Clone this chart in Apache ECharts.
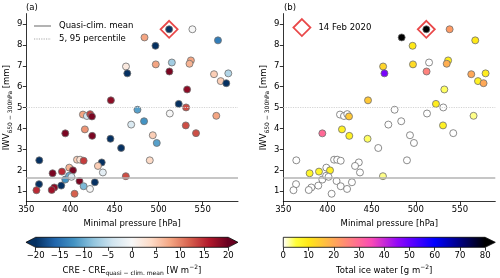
<!DOCTYPE html>
<html><head><meta charset="utf-8">
<script src="https://cdn.jsdelivr.net/npm/echarts@6/dist/echarts.min.js"></script>
<style>html,body{margin:0;padding:0;background:#fff}#c{width:500px;height:278px}</style>
</head><body><div id="c"></div>
<script>
// ---- data ----
const pressure = [511.9,538.3,484.0,496.4,567.3,463.0,464.5,496.8,515.0,536.6,
  535.0,512.2,562.8,579.0,570.4,576.7,532.3,445.9,522.8,531.1,
  476.0,512.7,483.5,565.4,530.8,542.4,493.4,497.9,490.0,468.9,
  414.2,418.7,422.4,424.4,394.2,416.4,424.7,445.4,457.5,364.7,
  407.5,411.0,415.0,435.5,431.2,436.8,379.8,390.4,398.7,402.9,
  462.8,394.2,398.5,401.2,410.3,427.7,415.0,422.2,404.7,389.6,
  381.7,378.8,364.4,361.5];
const iwv = [8.75,8.75,8.36,7.96,8.22,6.97,6.64,7.07,7.16,7.26,
  7.10,6.73,6.60,6.64,6.27,6.17,5.87,5.35,5.18,5.01,
  4.90,4.72,4.35,4.61,4.15,3.78,3.68,3.31,2.48,4.19,
  4.67,4.60,4.69,4.58,3.77,3.96,3.65,3.51,3.07,2.48,
  2.51,2.51,2.46,2.38,2.21,1.90,1.86,1.94,2.13,2.00,
  1.72,1.56,1.74,1.69,1.49,1.43,1.24,1.11,0.88,1.27,
  1.18,1.06,1.34,1.05];
const creDiff = [-20,0,8,-20,-14,2,-20,8,-7,8,
  7,19,5,-6,5,-20,18,18,-20,13,
  -11,0,-12,8,13,13,5,-11,4,-3,
  8,-4,14,19,19,9,19,-20,-20,-20,
  5,3,14,-20,5,-2,19,15,7,19,
  13,-12,-10,-3,19,-20,-9,0,12,-20,
  18,17,-20,15];
const iceWater = [80,22,80,10,10,13,48,12,0,9,
  19,26,20,9,8,20,4,15,9,0,
  0,0,0,3,8,0,0,0,0,0,
  0,0,0,15,30,8,8,4,0,0,
  0,0,0,0,0,0,7,7,0,8,
  3,0,0,0,0,0,0,0,0,0,
  0,0,0,0];
const highlightPressure = [511.9];
const highlightIwv = [8.75];
const climMean = 1.65;
const percentile95 = 5.0;
const xTicks = [350,400,450,500,550];
const yTicks = [1,2,3,4,5,6,7,8,9];
const creTicks = [-20,-15,-10,-5,0,5,10,15,20];
const iceTicks = [0,10,20,30,40,50,60,70,80];
const creRange = [-20,20];
const iceRange = [0,80];
const rdbuR = ['#053061','#2166ac','#4393c3','#92c5de','#d1e5f0','#f7f7f7','#fddbc7','#f4a582','#d6604d','#b2182b','#67001f'];
const gnuplot2R = ['#ffffff','#ffff38','#ffe817','#ffc837','#ffa857','#ff8877','#ff6996','#f949b6','#c729d6','#9509f6','#6400ff','#3200ff','#0000ff','#0000bf','#000080','#000040','#000000'];

// ---- chart ----
const FONT = 'DejaVu Sans';
const FS = 8.5;
const chart = echarts.init(document.getElementById('c'), null, {renderer:'canvas'});

function mainX(gi){
  return {gridIndex:gi, type:'value', min:350, max:590,
    axisLine:{show:true, lineStyle:{color:'#000', width:0.8}},
    axisTick:{show:true, length:3.5, lineStyle:{color:'#000', width:0.8}, customValues:xTicks},
    axisLabel:{customValues:xTicks, fontSize:FS, color:'#000', margin:4, fontFamily:FONT},
    splitLine:{show:false},
    name:'Minimal pressure [hPa]', nameLocation:'middle', nameGap:17,
    nameTextStyle:{fontSize:FS, color:'#000', fontFamily:FONT}};
}
function mainY(gi){
  return {gridIndex:gi, type:'value', min:0.5, max:9.5,
    axisLine:{show:true, lineStyle:{color:'#000', width:0.8}},
    axisTick:{show:true, length:3.5, lineStyle:{color:'#000', width:0.8}, customValues:yTicks},
    axisLabel:{customValues:yTicks, fontSize:FS, color:'#000', margin:4, fontFamily:FONT},
    splitLine:{show:false},
    name:'IWV{sub|650 − 300hPa} [mm]', nameLocation:'middle', nameGap:12, nameRotate:90,
    nameTextStyle:{fontSize:FS, color:'#000', fontFamily:FONT, lineHeight:12,
      rich:{sub:{fontSize:6, fontFamily:FONT, color:'#000', verticalAlign:'bottom', lineHeight:8}}}};
}
function cbX(gi, range, ticks, name, rich){
  return {gridIndex:gi, type:'value', min:range[0], max:range[1], position:'bottom',
    axisLine:{show:false},
    axisTick:{show:true, length:3.5, lineStyle:{color:'#000', width:0.8}, customValues:ticks},
    axisLabel:{customValues:ticks, fontSize:FS, color:'#000', margin:4, fontFamily:FONT,
      formatter:v=>String(v).replace('-','−')},
    splitLine:{show:false},
    name:name, nameLocation:'middle', nameGap:17,
    nameTextStyle:{fontSize:FS, color:'#000', fontFamily:FONT, lineHeight:12, rich:rich}};
}
function cbY(gi){
  return {gridIndex:gi, type:'value', min:0, max:1, show:false};
}
function cbRender(colors, extLow, extHigh){
  return function(params, api){
    const p0 = api.coord([api.value(0), 0]);
    const p1 = api.coord([api.value(1), 1]);
    const x0 = p0[0], x1 = p1[0], yb = p0[1], yt = p1[1];
    const ym = (yb+yt)/2;
    const ext = 0.05*(x1-x0);
    const stops = colors.map((c,i)=>({offset:i/(colors.length-1), color:c}));
    const children = [{type:'rect', shape:{x:x0, y:yt, width:x1-x0, height:yb-yt},
      style:{fill:new echarts.graphic.LinearGradient(0,0,1,0,stops)}}];
    const outline = [];
    if (extLow){
      children.push({type:'polygon', shape:{points:[[x0+0.5,yt],[x0-ext,ym],[x0+0.5,yb]]}, style:{fill:colors[0]}});
      outline.push([x0,yb],[x0-ext,ym],[x0,yt]);
    } else { outline.push([x0,yb],[x0,yt]); }
    if (extHigh){
      children.push({type:'polygon', shape:{points:[[x1-0.5,yt],[x1+ext,ym],[x1-0.5,yb]]}, style:{fill:colors[colors.length-1]}});
      outline.push([x1,yt],[x1+ext,ym],[x1,yb]);
    } else { outline.push([x1,yt],[x1,yb]); }
    children.push({type:'polygon', shape:{points:outline}, style:{fill:null, stroke:'#000', lineWidth:0.8}});
    return {type:'group', children:children};
  };
}
function refLines(xi, names){
  return [
    {name:names[0], type:'line', xAxisIndex:xi, yAxisIndex:xi, data:[], symbol:'none',
      lineStyle:{color:'#b3b3b3', width:1.5}, itemStyle:{color:'#b3b3b3'}, z:1,
      markLine:{symbol:'none', silent:true, label:{show:false}, animation:false,
        lineStyle:{color:'#b3b3b3', width:1.5, type:'solid'}, data:[{yAxis:climMean}]}},
    {name:names[1], type:'line', xAxisIndex:xi, yAxisIndex:xi, data:[], symbol:'none',
      lineStyle:{color:'#d4d4d4', width:1.2, type:[1.2,1.2]}, itemStyle:{color:'#d4d4d4'}, z:1,
      markLine:{symbol:'none', silent:true, label:{show:false}, animation:false,
        lineStyle:{color:'#d4d4d4', width:1.2, type:[1.2,1.2]}, data:[{yAxis:percentile95}]}}
  ];
}

const ptsA = pressure.map((p,i)=>[p, iwv[i], creDiff[i]]);
const ptsB = pressure.map((p,i)=>[p, iwv[i], iceWater[i]]);
const hl = highlightPressure.map((p,i)=>[p, highlightIwv[i]]);
const ptStyle = {borderColor:'#6e6e6e', borderWidth:0.8, opacity:1};

const option = {
  animation:false,
  textStyle:{fontFamily:FONT},
  title:[
    {text:'(a)', left:26, top:3, padding:0, textStyle:{fontSize:FS, fontWeight:'normal', color:'#000', fontFamily:FONT}},
    {text:'(b)', left:284, top:3, padding:0, textStyle:{fontSize:FS, fontWeight:'normal', color:'#000', fontFamily:FONT}}
  ],
  grid:[
    {left:26, top:13.6, width:212, height:188.1},
    {left:283.3, top:13.6, width:212, height:188.1},
    {left:35.6, top:237.3, width:192.7, height:10},
    {left:283.3, top:237.3, width:201.9, height:10}
  ],
  xAxis:[mainX(0), mainX(1),
    cbX(2, creRange, creTicks, 'CRE - CRE{sub|quasi − clim. mean} [W m{sup|−2}]',
      {sub:{fontSize:6, fontFamily:FONT, color:'#000', verticalAlign:'bottom', lineHeight:8},
       sup:{fontSize:6, fontFamily:FONT, color:'#000', verticalAlign:'top', lineHeight:8}}),
    cbX(3, iceRange, iceTicks, 'Total ice water [g m{sup|−2}]',
      {sup:{fontSize:6, fontFamily:FONT, color:'#000', verticalAlign:'top', lineHeight:8}})],
  yAxis:[mainY(0), mainY(1), cbY(2), cbY(3)],
  legend:[
    {data:[{name:'Quasi-clim. mean', icon:'inherit'},{name:'5, 95 percentile', icon:'inherit'}],
      orient:'vertical', left:33, top:21,
      itemWidth:17, itemHeight:9, itemGap:3, padding:0,
      itemStyle:{opacity:0},
      textStyle:{fontSize:FS, color:'#000', fontFamily:FONT, lineHeight:10, padding:[0,0,0,3]}},
    {data:['14 Feb 2020'], left:292.5, top:18.2, itemWidth:17, itemHeight:17, padding:0,
      itemStyle:{color:'rgba(0,0,0,0)', borderColor:'#e41a1c', borderWidth:1.8},
      textStyle:{fontSize:FS, color:'#000', fontFamily:FONT, padding:[0,0,0,3]}}
  ],
  visualMap:[
    {type:'continuous', show:false, seriesIndex:0, dimension:2, min:creRange[0], max:creRange[1], inRange:{color:rdbuR}},
    {type:'continuous', show:false, seriesIndex:1, dimension:2, min:iceRange[0], max:iceRange[1], inRange:{color:gnuplot2R}}
  ],
  series:[
    {name:'CRE', type:'scatter', xAxisIndex:0, yAxisIndex:0, data:ptsA, symbolSize:7, itemStyle:ptStyle, z:3},
    {name:'IWP', type:'scatter', xAxisIndex:1, yAxisIndex:1, data:ptsB, symbolSize:7, itemStyle:ptStyle, z:3},
    {name:'hlA', type:'scatter', xAxisIndex:0, yAxisIndex:0, data:hl, symbol:'diamond', symbolSize:17,
      itemStyle:{color:'rgba(0,0,0,0)', borderColor:'#e41a1c', borderWidth:1.8}, z:5},
    {name:'14 Feb 2020', type:'scatter', xAxisIndex:1, yAxisIndex:1, data:hl, symbol:'diamond', symbolSize:17,
      itemStyle:{color:'rgba(0,0,0,0)', borderColor:'#e41a1c', borderWidth:1.8}, z:5},
    ...refLines(0, ['Quasi-clim. mean','5, 95 percentile']),
    ...refLines(1, ['meanB','p95B']),
    {type:'custom', xAxisIndex:2, yAxisIndex:2, data:[[creRange[0], creRange[1]]], clip:false,
      renderItem:cbRender(rdbuR, true, true), silent:true},
    {type:'custom', xAxisIndex:3, yAxisIndex:3, data:[[iceRange[0], iceRange[1]]], clip:false,
      renderItem:cbRender(gnuplot2R, false, true), silent:true}
  ]
};
chart.setOption(option);
</script></body></html>
